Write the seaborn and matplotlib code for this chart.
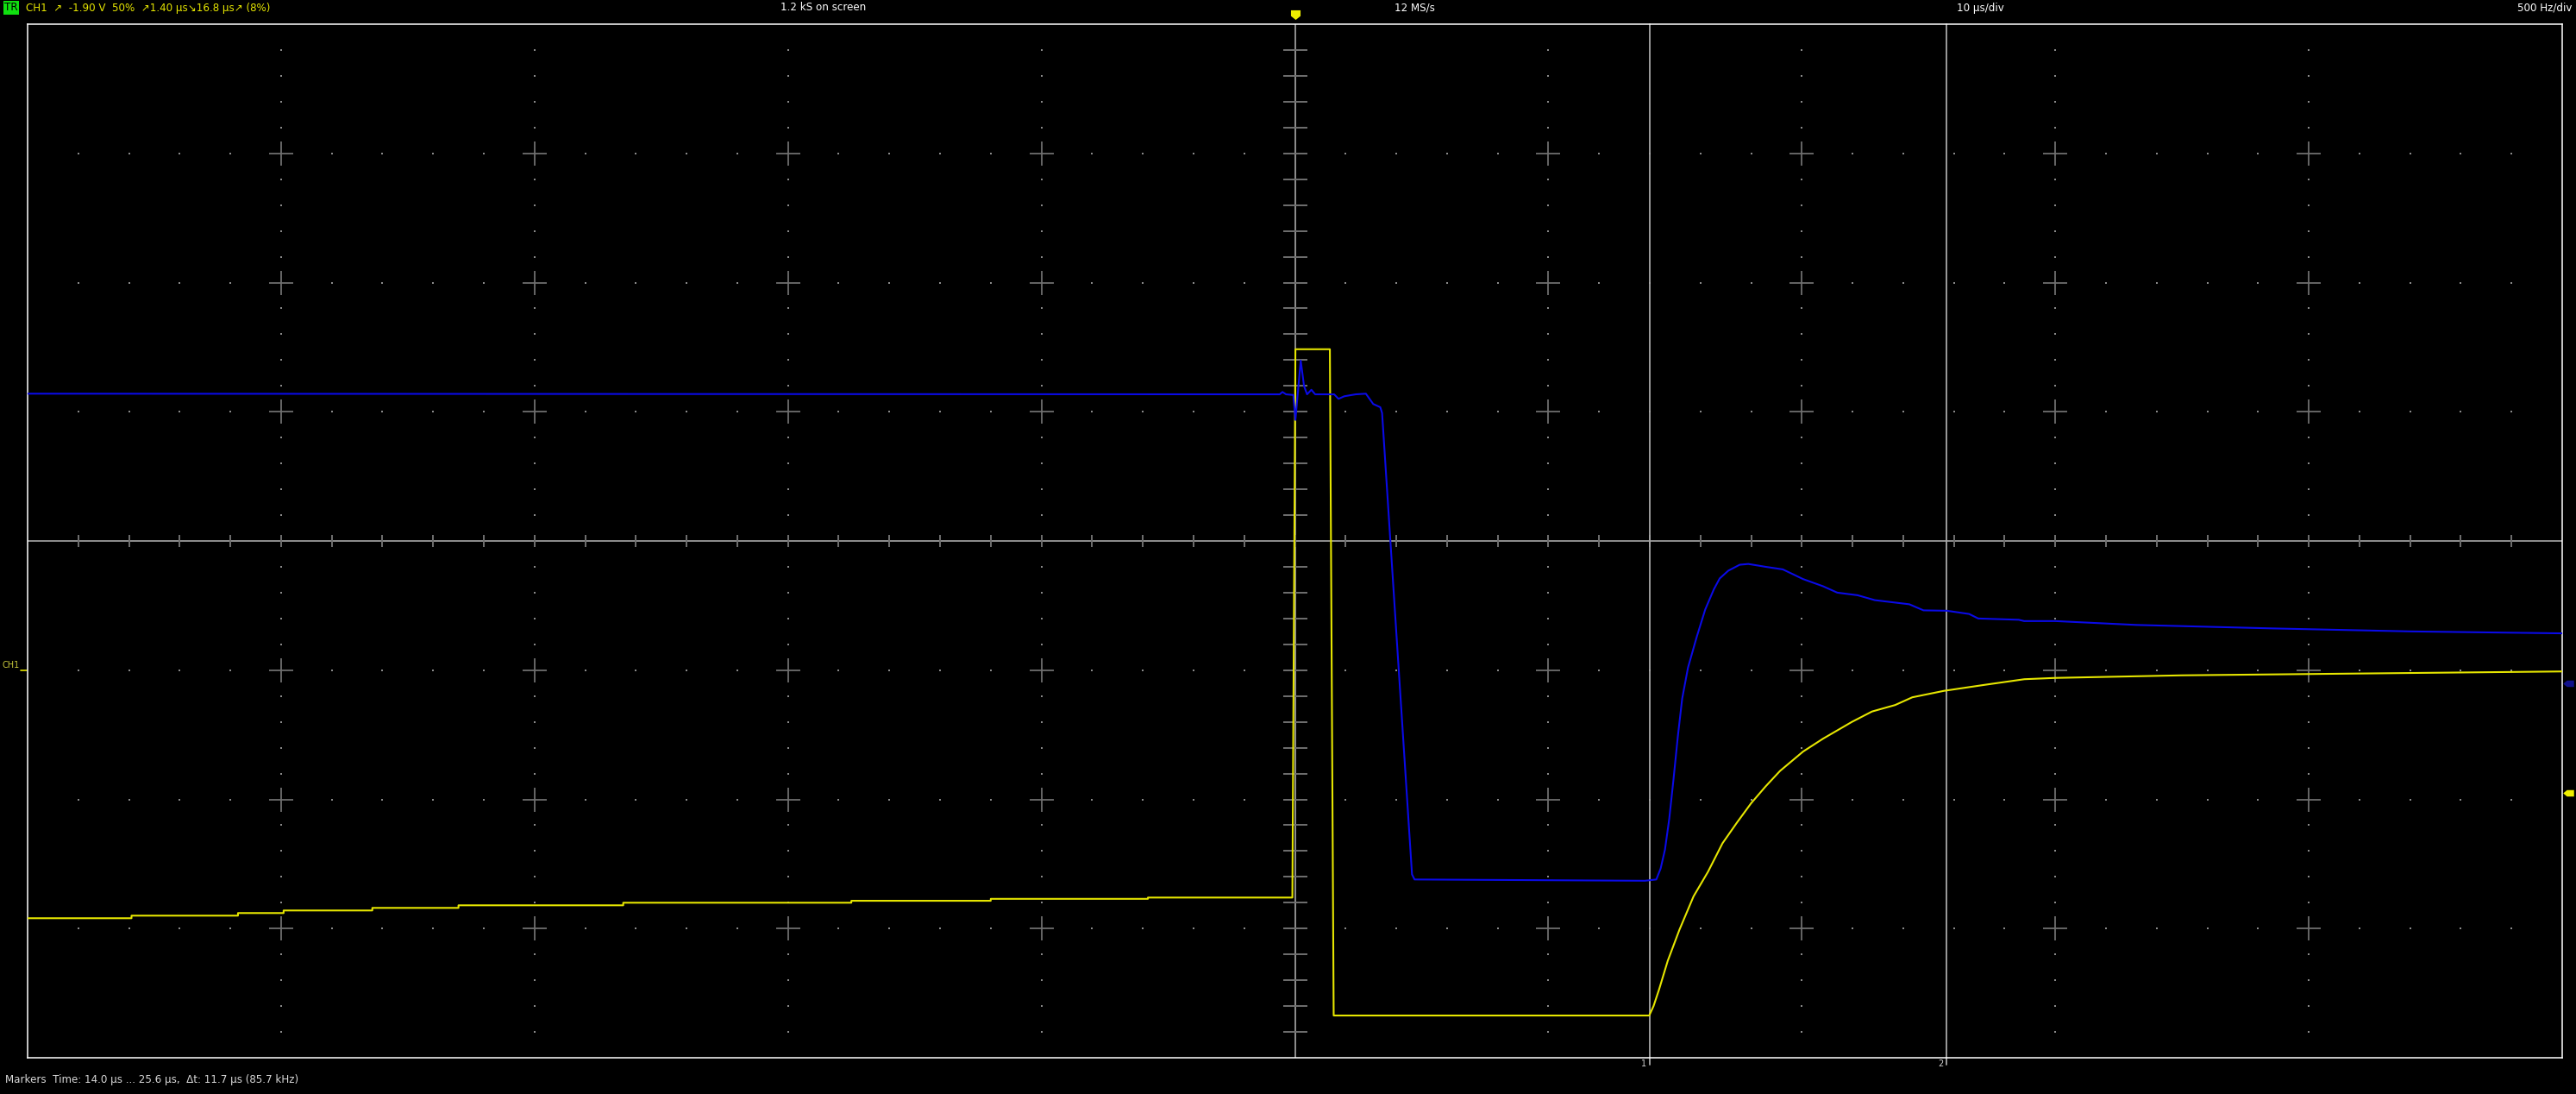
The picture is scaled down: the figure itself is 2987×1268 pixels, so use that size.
import numpy as np
import pandas as pd
import matplotlib
matplotlib.use("Agg")
import matplotlib.pyplot as plt
import seaborn as sns

# Trace data (time in us, amplitude in divisions)
t_ch1 = [-50, -45.9, -45.9, -41.7, -41.7, -39.9, -39.9, -36.4, -36.4, -33.0,
         -33.0, -26.5, -26.5, -17.5, -17.5, -12.0, -12.0, -5.8, -5.8, -0.1,
         0.02, 1.38, 1.53, 13.98, 14.15, 14.37, 14.71, 15.17, 15.73, 16.30,
         16.87, 17.44, 18.0, 18.57, 19.14, 20.05, 20.84, 21.98, 22.77, 23.68,
         24.36, 25.61, 27.2, 28.78, 30.0, 32.5, 35, 40, 45, 50]
v_ch1 = [-2.92, -2.92, -2.90, -2.90, -2.88, -2.88, -2.86, -2.86, -2.84, -2.84,
         -2.82, -2.82, -2.80, -2.80, -2.785, -2.785, -2.77, -2.77, -2.76, -2.76,
         1.484, 1.484, -3.673, -3.673, -3.6, -3.47, -3.25, -3.01, -2.75, -2.56,
         -2.34, -2.18, -2.03, -1.90, -1.78, -1.63, -1.53, -1.40, -1.32, -1.27,
         -1.21, -1.16, -1.114, -1.07, -1.06, -1.05, -1.04, -1.03, -1.02, -1.01]

t_ch2 = [-50, -0.6, -0.49, -0.35, -0.06, 0.02, 0.23, 0.36, 0.48, 0.65,
         0.8, 1.55, 1.72, 1.95, 2.4, 2.8, 3.09, 3.37, 3.44, 4.62,
         4.72, 13.8, 14.26, 14.43, 14.6, 14.77, 14.94, 15.11, 15.28, 15.51,
         15.85, 16.19, 16.53, 16.76, 17.1, 17.55, 17.89, 18.57, 19.25, 20.05,
         20.83, 21.4, 22.2, 22.88, 24.24, 24.8, 25.72, 26.6, 26.96, 28.56,
         28.77, 30.0, 33.2, 38.6, 44.0, 50]
v_ch2 = [1.14, 1.135, 1.153, 1.135, 1.13, 0.937, 1.396, 1.20, 1.135, 1.17,
         1.135, 1.135, 1.10, 1.12, 1.135, 1.14, 1.06, 1.035, 0.99, -2.58,
         -2.62, -2.63, -2.62, -2.535, -2.39, -2.15, -1.84, -1.51, -1.22, -0.98,
         -0.745, -0.53, -0.374, -0.29, -0.23, -0.184, -0.178, -0.2, -0.22, -0.295,
         -0.35, -0.40, -0.42, -0.458, -0.49, -0.537, -0.54, -0.565, -0.60, -0.61,
         -0.62, -0.62, -0.65, -0.677, -0.70, -0.715]

markers_t = [14.0, 25.7]
marker_labels = ["1", "2"]
offset_ch = ["CH2", "CH1"]
offset_div = [-1.10, -1.95]
trig_level_div = -0.96

header_ch1 = "CH1  \u2197  -1.90 V  50%  \u21971.40 \u00b5s\u219816.8 \u00b5s\u2197 (8%)"
header_items = ["1.2 kS on screen", "12 MS/s", "10 \u00b5s/div", "500 Hz/div"]
footer = "Markers  Time: 14.0 \u00b5s ... 25.6 \u00b5s,  \u0394t: 11.7 \u00b5s (85.7 kHz)"

YEL = "#e6e600"
BLU = "#0a0ae6"
GRID = "#6e6e6e"
FS = 8.6

sns.set_style("dark", {"axes.facecolor": "black", "figure.facecolor": "black"})
plt.rcParams["font.family"] = ["DejaVu Sans"]

W, H = 2987, 1268
fig = plt.figure(figsize=(W / 100, H / 100), dpi=100, facecolor="black")
L, R, T, B = 32, 2971, 28, 1226
ax = fig.add_axes([L / W, 1 - B / H, (R - L) / W, (B - T) / H])
ax.set_facecolor("black")
ax.set_xlim(-50, 50)
ax.set_ylim(-4, 4)
ax.set_xticks([])
ax.set_yticks([])
for s in ax.spines.values():
    s.set_color("white")
    s.set_linewidth(1.1)
    s.set_visible(True)

def fx(x):
    return x / W

def fy(y):
    return 1 - y / H

# graticule: crosses at major intersections, dots at subdivisions
xs_major = [x for x in range(-40, 50, 10) if x != 0]
ys_major = [y for y in range(-3, 4) if y != 0]
cx, cy = np.meshgrid(xs_major, ys_major)
ax.scatter(cx.ravel(), cy.ravel(), marker="+", s=430, linewidths=1.3, color=GRID, zorder=1)
dots_x, dots_y = [], []
for x in xs_major:
    for y in np.arange(-4, 4.01, 0.2):
        if abs(y - round(y)) > 1e-6:
            dots_x.append(x)
            dots_y.append(y)
for y in ys_major:
    for x in range(-50, 51, 2):
        if x % 10 != 0:
            dots_x.append(x)
            dots_y.append(y)
ax.scatter(dots_x, dots_y, marker="s", s=1.6, linewidths=0, color="#8a8a8a", zorder=1)

# centre axes with ticks
ax.axhline(0, color="#9a9a9a", lw=1.3, zorder=1)
ax.axvline(0, color="#9a9a9a", lw=1.3, zorder=1)
ht = [x for x in range(-48, 50, 2)]
ax.scatter(ht, [0] * len(ht), marker="|", s=115, linewidths=1.4, color="#707070", zorder=1)
vt = [round(v, 1) for v in np.arange(-3.8, 3.81, 0.2) if abs(v) > 1e-6]
ax.scatter([0] * len(vt), vt, marker="_", s=430, linewidths=1.4, color="#707070", zorder=1)

# cursors
for t, lab in zip(markers_t, marker_labels):
    ax.plot([t, t], [-4.055, 4], color="#a8a8a8", lw=1.3, clip_on=False, zorder=2)
    ax.text(t - 0.12, -4.045, lab, color="#d0d0d0", fontsize=7, ha="right", va="center",
            clip_on=False)

# traces
df = pd.concat([
    pd.DataFrame({"t": t_ch1, "v": v_ch1, "ch": "CH1"}),
    pd.DataFrame({"t": t_ch2, "v": v_ch2, "ch": "CH2"}),
], ignore_index=True)
sns.lineplot(data=df, x="t", y="v", hue="ch", palette={"CH1": YEL, "CH2": BLU},
             sort=False, estimator=None, lw=1.5, legend=False, ax=ax, zorder=3)
ax.set_xlabel("")
ax.set_ylabel("")

# trigger position marker at top
trig_marker = [(-1, 1), (1, 1), (1, -0.2), (0, -1), (-1, -0.2), (-1, 1)]
ax.plot([0], [4.075], marker=trig_marker, markersize=8, color="#f0f000",
        markeredgewidth=0, clip_on=False)

# channel offset arrows on right side
off_marker = [(-1, 0), (-0.3, 0.6), (1, 0.6), (1, -0.6), (-0.3, -0.6), (-1, 0)]
for ch, d in zip(offset_ch, offset_div):
    ax.plot([50.25], [d], marker=off_marker, markersize=9,
            color="#12128c" if ch == "CH2" else "#f0f000", markeredgewidth=0, clip_on=False)

# trigger level label at left
ax.text(-50.3, trig_level_div, "CH1", color="#c8c83c", fontsize=7, ha="right", va="center",
        clip_on=False)
ax.plot([-50.28, -50.02], [trig_level_div - 0.04] * 2, color=YEL, lw=1.2, clip_on=False)

# status line
fig.text(fx(5), fy(9), "TR", color="black", fontsize=FS, ha="left", va="center",
         bbox=dict(boxstyle="square,pad=0.1", fc="#10e010", ec="none"))
fig.text(fx(30), fy(9), header_ch1, color=YEL, fontsize=FS, ha="left", va="center")
fig.text(fx(905), fy(9), header_items[0], color="white", fontsize=FS, ha="left", va="center")
fig.text(fx(1617), fy(9), header_items[1], color="white", fontsize=FS, ha="left", va="center")
fig.text(fx(2269), fy(9), header_items[2], color="white", fontsize=FS, ha="left", va="center")
fig.text(fx(2982), fy(9), header_items[3], color="white", fontsize=FS, ha="right", va="center")
fig.text(fx(6), fy(1252), footer, color="#d8d8d8", fontsize=FS, ha="left", va="center")

fig.savefig("out.png", dpi=100, facecolor="black")
